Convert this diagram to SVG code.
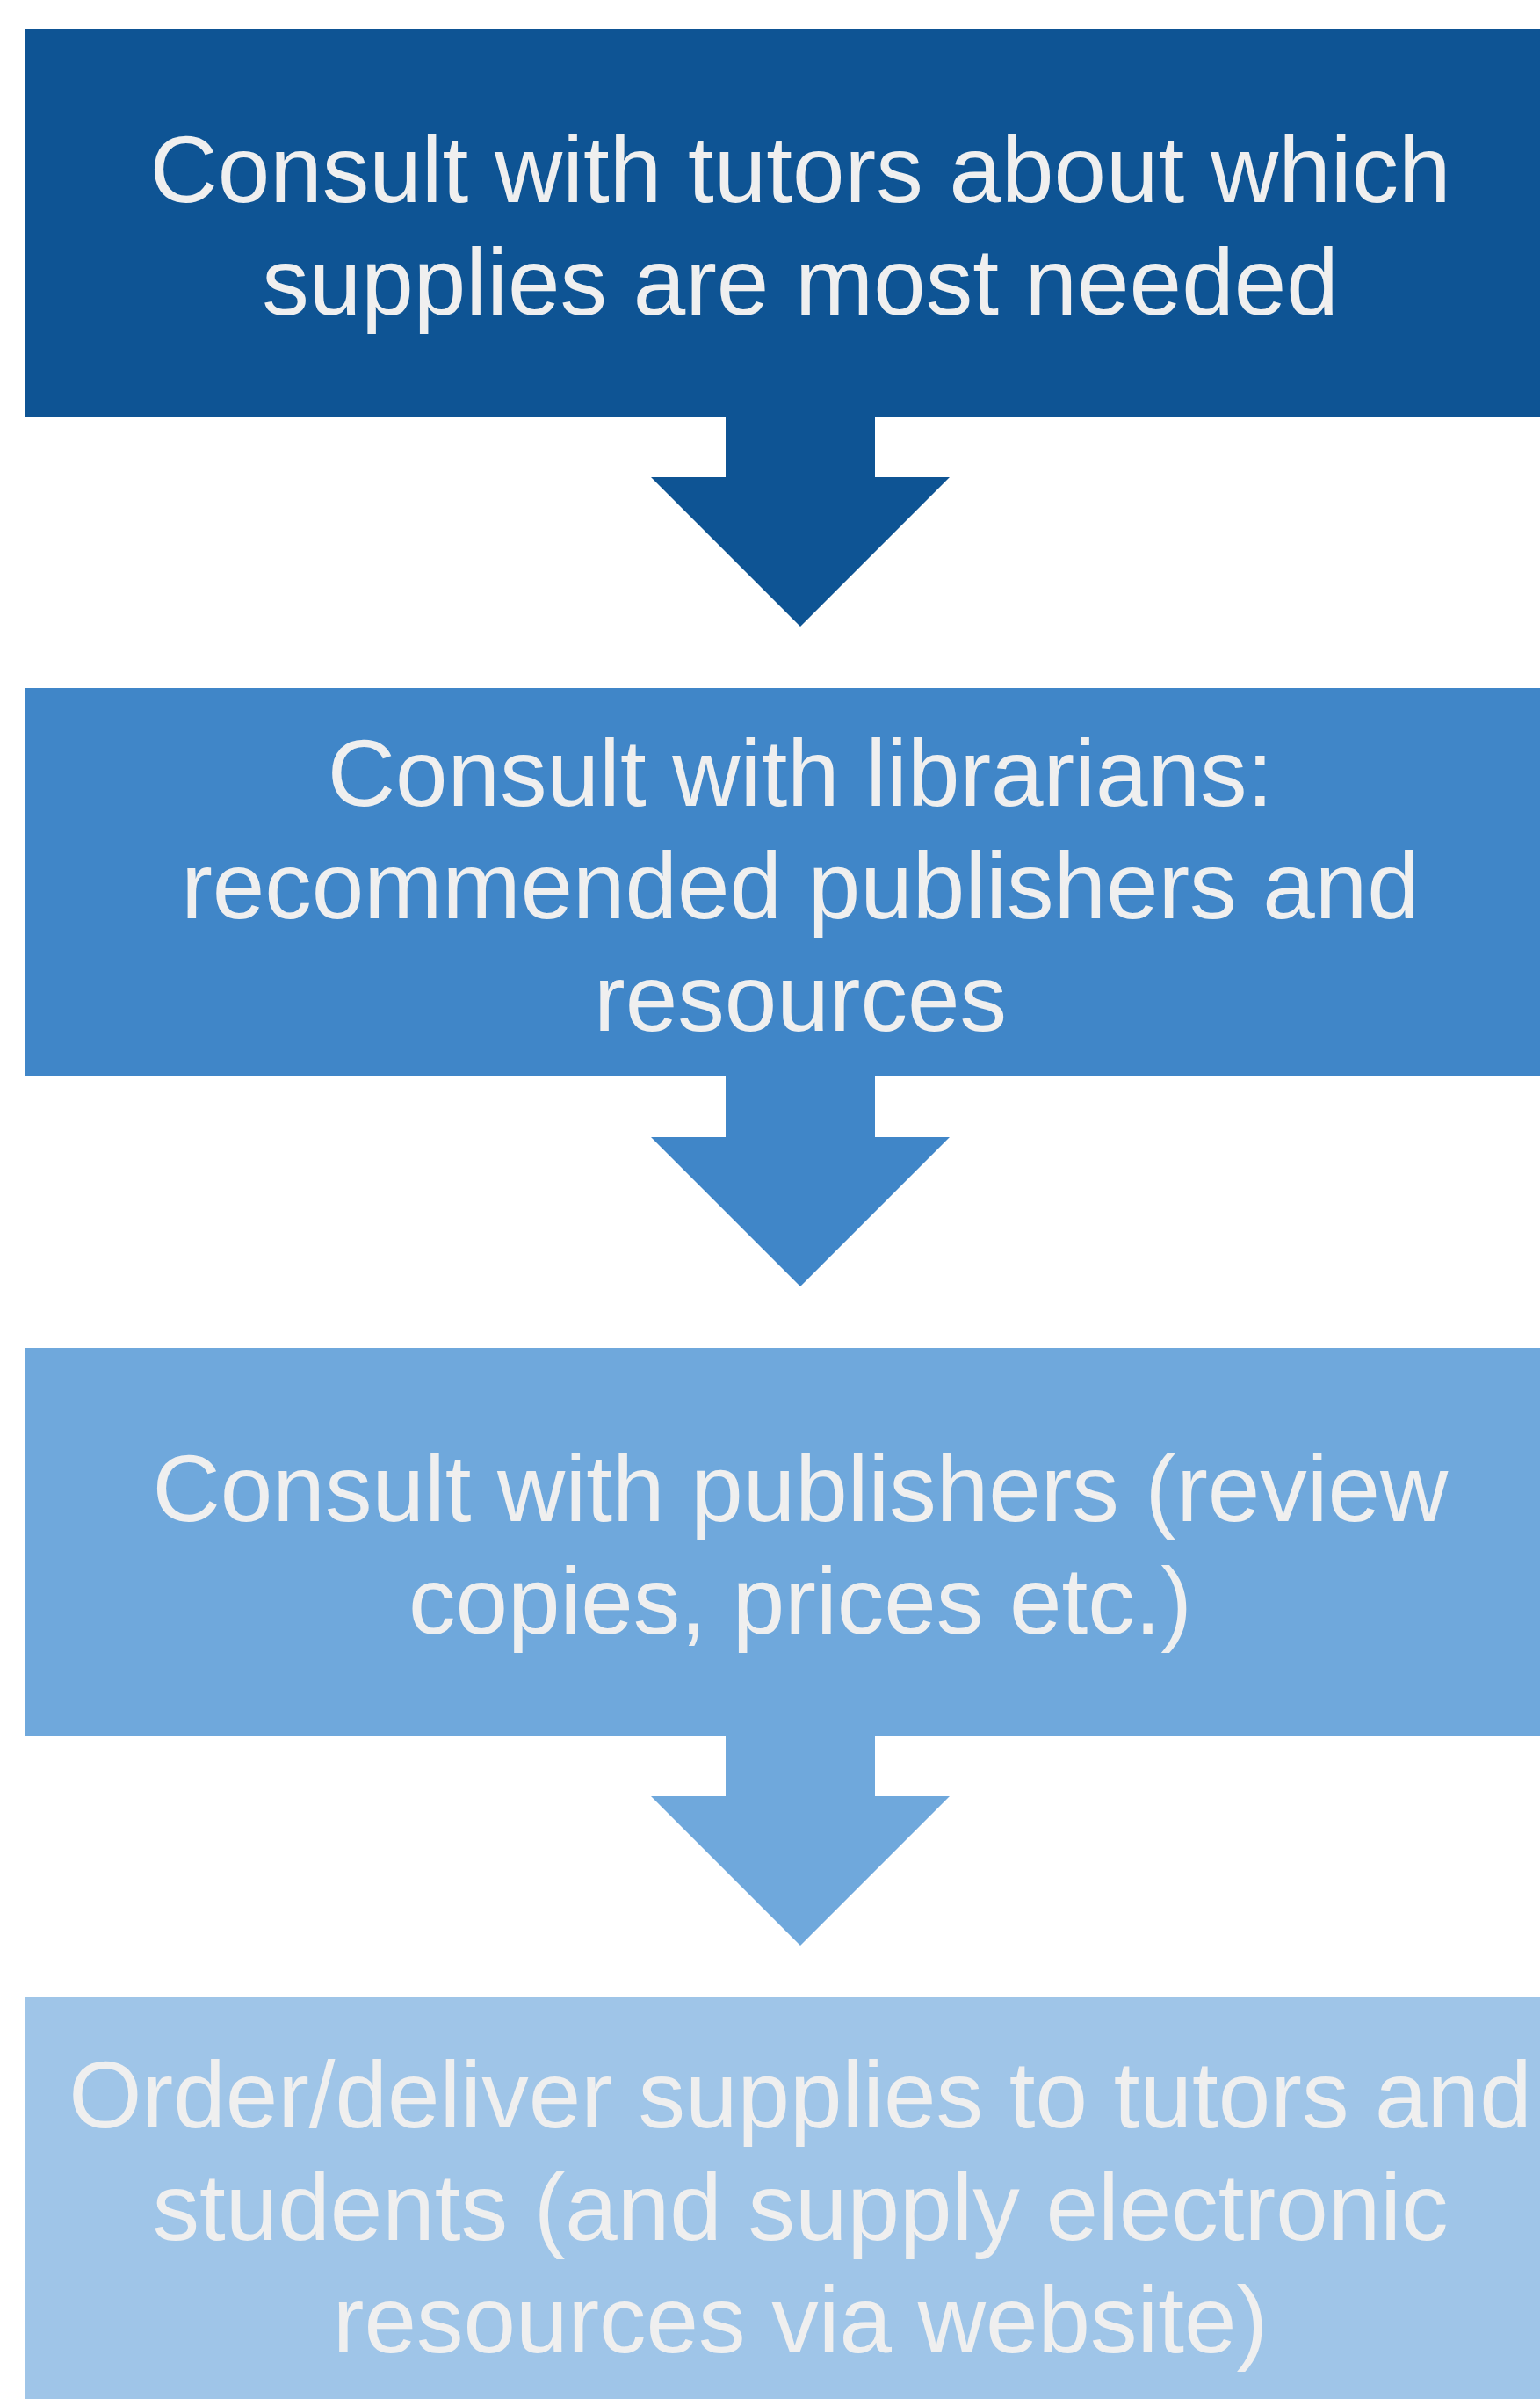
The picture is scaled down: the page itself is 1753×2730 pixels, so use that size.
<svg xmlns="http://www.w3.org/2000/svg" width="1753" height="2730" viewBox="0 0 1753 2730">
<style>
text{font-family:"Liberation Sans",Arial,sans-serif;font-size:107px;fill:#EFEFEF;text-anchor:middle}
.c1{fill:#0E5494}.c2{fill:#4086C8}.c3{fill:#6FA8DC}.c4{fill:#9FC5E8}
</style>
<rect width="1753" height="2730" fill="#FFFFFF"/>
<g id="connectors">
<polygon class="c1" points="826,470 996,470 996,543 1081,543 911,713 741,543 826,543"/>
<polygon class="c2" points="826,1220 996,1220 996,1294 1081,1294 911,1464 741,1294 826,1294"/>
<polygon class="c3" points="826,1971 996,1971 996,2044 1081,2044 911,2214 741,2044 826,2044"/>
</g>
<g id="node1">
<rect class="c1" x="29" y="33" width="1764" height="442"/>
<text x="911" y="230">Consult with tutors about which</text>
<text x="911" y="358">supplies are most needed</text>
</g>
<g id="node2">
<rect class="c2" x="29" y="783" width="1764" height="442"/>
<text x="911" y="917">Consult with librarians:</text>
<text x="911" y="1045">recommended publishers and</text>
<text x="911" y="1173">resources</text>
</g>
<g id="node3">
<rect class="c3" x="29" y="1534" width="1764" height="442"/>
<text x="911" y="1731">Consult with publishers (review</text>
<text x="911" y="1859">copies, prices etc.)</text>
</g>
<g id="node4">
<rect class="c4" x="29" y="2272" width="1764" height="470"/>
<text x="911" y="2421">Order/deliver supplies to tutors and</text>
<text x="911" y="2549">students (and supply electronic</text>
<text x="911" y="2677">resources via website)</text>
</g>
</svg>
